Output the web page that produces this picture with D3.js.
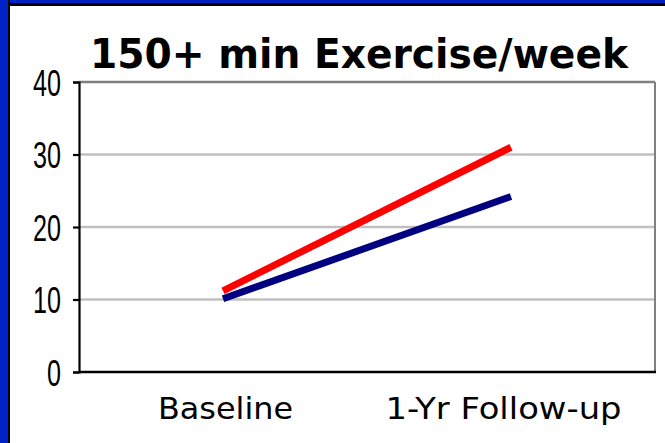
<!DOCTYPE html>
<html><head><meta charset="utf-8">
<script src="https://cdn.jsdelivr.net/npm/d3@7"></script>
<style>html,body{margin:0;padding:0;background:#fff;overflow:hidden}</style>
</head><body>
<svg id="c" width="665" height="443"></svg>
<script>
const categories = ["Baseline", "1-Yr Follow-up"];
const seriesRed = [11.2, 31.0];
const seriesBlue = [10.1, 24.2];
const yTicks = [0, 10, 20, 30, 40];
const title = "150+ min Exercise/week";

const svg = d3.select("#c");
svg.append("rect").attr("width",665).attr("height",443).attr("fill","#fff");
// slide border (left & top)
svg.append("rect").attr("x",0).attr("y",0).attr("width",665).attr("height",6).attr("fill","#000");
svg.append("rect").attr("x",0).attr("y",0).attr("width",665).attr("height",3).attr("fill","#0022c4");
svg.append("rect").attr("x",0).attr("y",0).attr("width",10).attr("height",443).attr("fill","#000");
svg.append("rect").attr("x",0).attr("y",0).attr("width",8).attr("height",443).attr("fill","#0022c4");

const L=79, R=655, T=82, B=372;
const x = d3.scalePoint().domain(categories).range([L,R]).padding(0.5);
const y = d3.scaleLinear().domain([0,40]).range([B,T]);

// gridlines
svg.append("g").selectAll("line").data(yTicks.filter(d=>d>0&&d<40)).join("line")
  .attr("x1",L).attr("x2",R).attr("y1",d=>y(d)).attr("y2",d=>y(d))
  .attr("stroke","#c0c0c0").attr("stroke-width",2.5);
// top and right frame
svg.append("line").attr("x1",L).attr("x2",R).attr("y1",y(40)).attr("y2",y(40)).attr("stroke","#808080").attr("stroke-width",2.5);
svg.append("line").attr("x1",R).attr("x2",R).attr("y1",y(40)).attr("y2",y(0)).attr("stroke","#808080").attr("stroke-width",2);

// y axis
const yAxis = svg.append("g").attr("transform",`translate(${L},0)`)
  .call(d3.axisLeft(y).tickValues(yTicks).tickSize(6).tickPadding(0).tickFormat(d3.format("d")));
yAxis.select(".domain").attr("stroke","#000").attr("stroke-width",2.2);
yAxis.selectAll(".tick line").attr("stroke","#000").attr("stroke-width",2.2);
yAxis.selectAll(".tick text").remove();
yAxis.selectAll(".tick").append("text")
  .attr("transform","translate(-18,0) scale(0.68,1)")
  .attr("text-anchor","end").attr("dy","0.36em")
  .attr("font-family","Liberation Sans, Arial, sans-serif").attr("font-size",37).attr("fill","#000")
  .text(d=>d);

// x axis
const xAxis = svg.append("g").attr("transform",`translate(0,${B})`)
  .call(d3.axisBottom(x).tickSize(0).tickPadding(0));
xAxis.select(".domain").attr("stroke","#000").attr("stroke-width",2.5).attr("d",`M${L},0H${R+1}`);
xAxis.selectAll(".tick text").remove();
const labelW = {"Baseline":135, "1-Yr Follow-up":236};
const labelDx = {"Baseline":2, "1-Yr Follow-up":-8};
xAxis.selectAll(".tick").append("text")
  .attr("x",d=>labelDx[d]).attr("y",47).attr("text-anchor","middle")
  .attr("font-family","DejaVu Sans, Verdana, sans-serif").attr("font-size",31).attr("fill","#000")
  .attr("textLength",d=>labelW[d]).attr("lengthAdjust","spacingAndGlyphs")
  .text(d=>d);

// lines
const line = d3.line().x((d,i)=>x(categories[i])).y(d=>y(d));
svg.append("path").datum(seriesBlue).attr("d",line).attr("fill","none").attr("stroke","#000080").attr("stroke-width",7);
svg.append("path").datum(seriesRed).attr("d",line).attr("fill","none").attr("stroke","#ff0000").attr("stroke-width",7);

// title
svg.append("text").attr("x",90).attr("y",68)
  .attr("font-family","DejaVu Sans, Verdana, sans-serif").attr("font-weight","bold").attr("font-size",40)
  .attr("textLength",538).attr("lengthAdjust","spacingAndGlyphs").attr("fill","#000")
  .text(title);
</script>
</body></html>
